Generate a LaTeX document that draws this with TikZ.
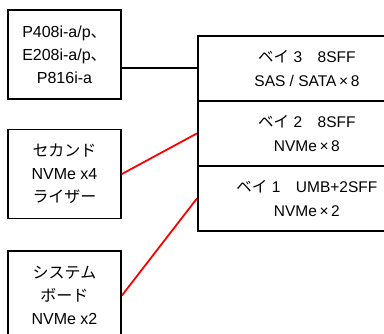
\documentclass[tikz,border=0pt]{standalone}
\usepackage{fontspec}
\setmainfont{Liberation Sans}
\newfontfamily\jp{Noto Sans CJK JP}
\begin{document}
\begin{tikzpicture}[x=1pt,y=-1pt,
  box/.style={draw=black,line width=1.8pt,rectangle,inner sep=0pt,align=center,
    font=\fontsize{16}{23}\selectfont},
  leftbox/.style={box,minimum width=113pt,minimum height=89pt},
  baybox/.style={box,minimum width=218pt,minimum height=65pt,anchor=north west,
    font=\fontsize{15.5}{24}\selectfont},
  blackline/.style={draw=black,line width=1.8pt},
  redline/.style={draw=red,line width=1.8pt}]
\useasboundingbox (0,0) rectangle (384,334);
\clip (0,0) rectangle (384,334);
\node[leftbox] (ctl) at (64.5,54.5) {P408i-a/p{\jp 、}\\E208i-a/p{\jp 、}\\P816i-a};
\node[leftbox] (riser) at (64.5,174) {{\jp セカンド}\\NVMe x4\\{\jp ライザー}};
\node[leftbox] (sysb) at (64.5,295.5) {{\jp システム}\\{\jp ボード}\\NVMe x2};
\node[baybox] (bay3) at (197,35) {{\jp ベイ} 3{\jp 　}8SFF\\SAS / SATA\,×\,8};
\node[baybox] (bay2) at (197,100) {{\jp ベイ} 2{\jp 　}8SFF\\NVMe\,×\,8};
\node[baybox] (bay1) at (197,165) {{\jp ベイ} 1{\jp 　}UMB+2SFF\\NVMe\,×\,2};
\draw[blackline] (bay3.west -| ctl.east) -- (bay3.west);
\draw[redline] (riser.east) -- (bay2.west);
\draw[redline] (sysb.east) -- (bay1.west);
\end{tikzpicture}
\end{document}
